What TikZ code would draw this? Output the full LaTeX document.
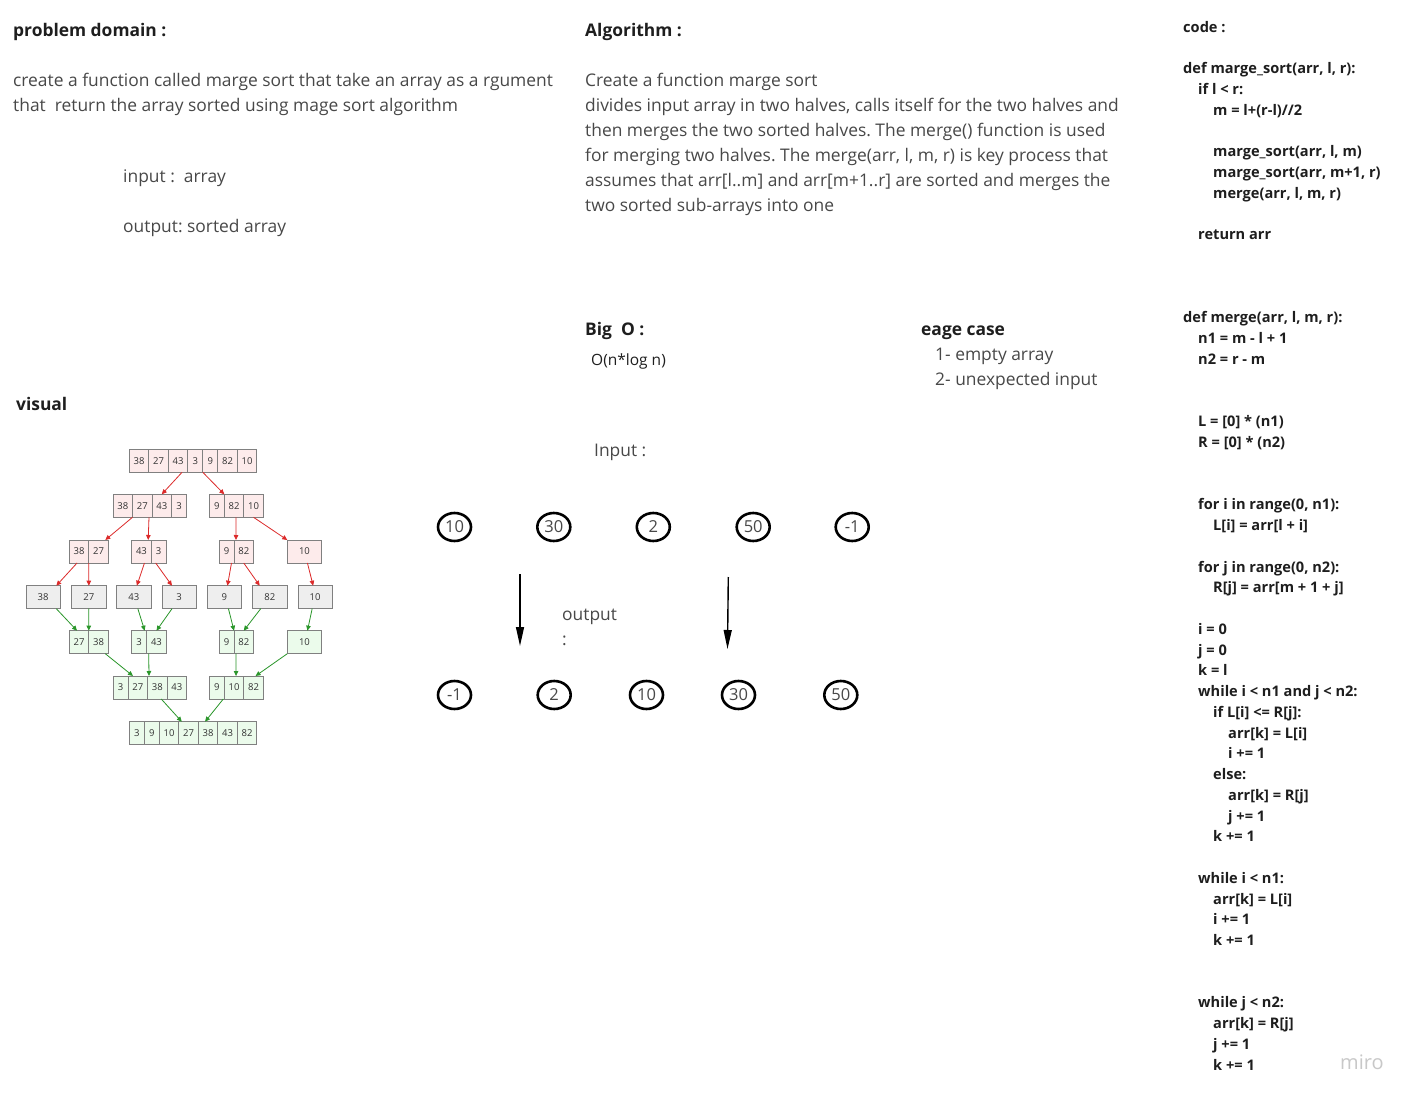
\documentclass[tikz,border=0pt]{standalone}
\usepackage{fontspec}
\setmainfont{Open Sans}
\usepackage{tikz}
\usetikzlibrary{shapes,positioning,arrows.meta}
\definecolor{txtgray}{HTML}{484848}
\definecolor{headgray}{HTML}{1E1E1E}
\definecolor{cellred}{HTML}{FDEBEB}
\definecolor{cellgreen}{HTML}{EBFBEB}
\definecolor{cellgray}{HTML}{EEEEEE}
\definecolor{cellline}{HTML}{808080}
\definecolor{arrred}{HTML}{DC2A2A}
\definecolor{arrgreen}{HTML}{2A962A}
\definecolor{mirogray}{HTML}{C8C8C8}
\frenchspacing

% one record = row of cells, #1 name, #2/#3 top left, #4 fill, #5 value/width
\newcommand{\record}[5]{%
  \node[inner sep=0pt, minimum size=0pt, outer sep=0pt] (#1-0) at (#2,#3) {};
  \foreach \v/\w [count=\i, remember=\i as \j (initially 0)] in {#5}
    \node[cell, fill=#4, minimum width=\w, anchor=north west] (#1-\i) at (#1-\j.north east) {\v};
}
\def\one{15pt}
\def\two{19.5pt}
\def\wide{34.3pt}

\begin{document}
\begin{tikzpicture}[x=1pt, y=-1pt, >=latex,
  head/.style={anchor=base west, inner sep=0pt, text=headgray, font=\fontsize{17.4}{20}\selectfont\bfseries},
  body/.style={anchor=base west, inner sep=0pt, text=txtgray, font=\fontsize{17.4}{20}\selectfont},
  codeline/.style={anchor=base west, inner sep=0pt, text=headgray, font=\fontsize{14.6}{16}\selectfont\bfseries},
  cell/.style={draw=cellline, line width=0.9pt, minimum height=23pt, inner sep=0pt, outer sep=0pt, text=black!80, font=\fontsize{9.5}{10}\selectfont},
  splitarrow/.style={-{Triangle[length=5pt,width=4.5pt]}, arrred, line width=0.8pt},
  mergearrow/.style={-{Triangle[length=5pt,width=4.5pt]}, arrgreen, line width=0.8pt},
  num/.style={ellipse, draw, line width=2.6pt, minimum width=33pt, minimum height=28pt, inner sep=0pt, text=txtgray, font=\fontsize{16.5}{18}\selectfont},
  bigarrow/.style={-{Triangle[length=19pt,width=8pt]}, line width=1.4pt}]

\fill[white] (0,0) rectangle (1417,1102);
\useasboundingbox (0,0) rectangle (1417,1102);

% problem domain
\node[head] (hprob) at (13,36.5) {problem domain :};
\node[body] (prob1) at (13,86.5) {create a function called marge sort that take an array as a rgument};
\node[body] (prob2) at (13,111.5) {that~ return the array sorted using mage sort algorithm};
\node[body] (pin) at (123,182.5) {input :~ array};
\node[body] (pout) at (123,232.5) {output: sorted array};

% algorithm
\node[head] (halgo) at (585,36.5) {Algorithm :};
\foreach \t [count=\i] in {{Create a function marge sort},
  {divides input array in two halves, calls itself for the two halves and},
  {then merges the two sorted halves. The merge() function is used},
  {for merging two halves. The merge(arr, l, m, r) is key process that},
  {assumes that arr[l..m] and arr[m+1..r] are sorted and merges the},
  {two sorted sub-arrays into one}}
  \node[body] (algo\i) at (585,61.5+25*\i) {\t};

% big O und edge cases
\node[head] (hbig) at (585,335.5) {Big~ O :};
\node[anchor=base west, inner sep=0pt, text=headgray, font=\fontsize{15.5}{16}\selectfont] (bigo) at (591,365) {O(n*log n)};
\node[head] (hedge) at (921,335.5) {eage case};
\node[body] (edge1) at (935,360.5) {1- empty array};
\node[body] (edge2) at (935,385.5) {2- unexpected input};

% input / output
\node[body] (hin) at (594,456) {Input :};
\foreach \v/\x [count=\i] in {10/454.5, 30/553.8, 2/653.3, 50/753.2, -1/852.2}
  \node[num] (in\i) at (\x,527) {\v};
\foreach \v/\x [count=\i] in {-1/454.5, 2/554.2, 10/646.5, 30/738.5, 50/840.8}
  \node[num] (out\i) at (\x,695) {\v};
\coordinate (ar1s) at (520,574);
\coordinate (ar1e) at (520,646);
\coordinate (ar2s) at (728.3,577);
\coordinate (ar2e) at (727.5,649);
\draw[bigarrow] (ar1s) -- (ar1e);
\draw[bigarrow] (ar2s) -- (ar2e);
\node[body] (hout) at (562,620) {output};
\node[body] (hcolon) at (562,645) {:};

% visual
\node[head] (hvis) at (16,410.5) {visual};
\record{a}{129.3}{449.3}{cellred}{38/\two,27/\two,43/\two,3/\one,9/\one,82/\two,10/\two}
\record{bl}{113}{494.3}{cellred}{38/\two,27/\two,43/\two,3/\one}
\record{br}{209.3}{494.3}{cellred}{9/\one,82/\two,10/\two}
\record{cl1}{69.3}{540}{cellred}{38/\two,27/\two}
\record{cl2}{131.7}{540}{cellred}{43/\two,3/\one}
\record{cr1}{219}{540}{cellred}{9/\one,82/\two}
\record{cr2}{287.3}{540}{cellred}{10/\wide}
\record{d1}{26}{585.7}{cellgray}{38/\wide}
\record{d2}{71.7}{585.7}{cellgray}{27/\wide}
\record{d3}{116.7}{585.7}{cellgray}{43/\wide}
\record{d4}{162}{585.7}{cellgray}{3/\wide}
\record{d5}{207.3}{585.7}{cellgray}{9/\wide}
\record{d6}{252.7}{585.7}{cellgray}{82/\wide}
\record{d7}{298}{585.7}{cellgray}{10/\wide}
\record{e1}{69.3}{630.7}{cellgreen}{27/\two,38/\two}
\record{e2}{131.7}{630.7}{cellgreen}{3/\one,43/\two}
\record{e3}{219}{630.7}{cellgreen}{9/\one,82/\two}
\record{e4}{287.3}{630.7}{cellgreen}{10/\wide}
\record{f1}{113}{676}{cellgreen}{3/\one,27/\two,38/\two,43/\two}
\record{f2}{209.3}{676}{cellgreen}{9/\one,10/\two,82/\two}
\record{g}{129.3}{721.7}{cellgreen}{3/\one,9/\one,10/\two,27/\two,38/\two,43/\two,82/\two}

% teilen
\draw[splitarrow] ([xshift=4pt]a-3.south) -- (bl-3.north);
\draw[splitarrow] (a-4.south east) -- (br-1.north east);
\draw[splitarrow] (bl-1.south east) -- ([xshift=-3pt]cl1-2.north east);
\draw[splitarrow] ([xshift=-3pt]bl-2.south east) -- ([xshift=-3pt]cl2-1.north east);
\draw[splitarrow] ([xshift=2pt]br-2.south) -- ([xshift=2pt]cr1-2.north west);
\draw[splitarrow] (br-3.south) -- (cr2-1.north west);
\draw[splitarrow] ([xshift=-2pt]cl1-1.south) -- ([xshift=-4pt]d1-1.north east);
\draw[splitarrow] (cl1-1.south east) -- (d2-1.north);
\draw[splitarrow] ([xshift=3pt]cl2-1.south) -- ([xshift=3pt]d3-1.north);
\draw[splitarrow] ([xshift=-3pt]cl2-2.south) -- ([xshift=10pt]d4-1.north west);
\draw[splitarrow] ([xshift=5pt]cr1-1.south) -- ([xshift=3pt]d5-1.north);
\draw[splitarrow] (cr1-2.south) -- ([xshift=7pt]d6-1.north west);
\draw[splitarrow] ([xshift=3pt]cr2-1.south) -- ([xshift=-2pt]d7-1.north);
% mischen
\draw[mergearrow] ([xshift=-4pt]d1-1.south east) -- ([xshift=-2pt]e1-1.north);
\draw[mergearrow] (d2-1.south) -- (e1-1.north east);
\draw[mergearrow] ([xshift=4pt]d3-1.south) -- ([xshift=-2pt]e2-1.north east);
\draw[mergearrow] ([xshift=10pt]d4-1.south west) -- (e2-2.north);
\draw[mergearrow] ([xshift=4pt]d5-1.south) -- (e3-1.north east);
\draw[mergearrow] ([xshift=8pt]d6-1.south west) -- (e3-2.north);
\draw[mergearrow] ([xshift=-3pt]d7-1.south) -- ([xshift=3pt]e4-1.north);
\draw[mergearrow] ([xshift=-3pt]e1-2.south east) -- ([xshift=5pt]f1-2.north west);
\draw[mergearrow] ([xshift=2pt]e2-2.south west) -- ([xshift=1.5pt]f1-3.north west);
\draw[mergearrow] ([xshift=2pt]e3-2.south west) -- ([xshift=2pt]f2-2.north);
\draw[mergearrow] (e4-1.south west) -- ([xshift=2pt]f2-3.north);
\draw[mergearrow] ([xshift=4pt]f1-3.south) -- ([xshift=3pt]g-4.north west);
\draw[mergearrow] ([xshift=-1pt]f2-1.south east) -- ([xshift=-3pt]g-5.north);

% code
\foreach \k/\ind/\t in {0/0/{code :}, 2/0/{def marge\_sort(arr, l, r):}, 3/1/{if l < r:},
  4/2/{m = l+(r-l)//2}, 6/2/{marge\_sort(arr, l, m)}, 7/2/{marge\_sort(arr, m+1, r)},
  8/2/{merge(arr, l, m, r)}, 10/1/{return arr}, 14/0/{def merge(arr, l, m, r):},
  15/1/{n1 = m - l + 1}, 16/1/{n2 = r - m}, 19/1/{L = [0] * (n1)}, 20/1/{R = [0] * (n2)},
  23/1/{for i in range(0, n1):}, 24/2/{L[i] = arr[l + i]}, 26/1/{for j in range(0, n2):},
  27/2/{R[j] = arr[m + 1 + j]}, 29/1/{i = 0}, 30/1/{j = 0}, 31/1/{k = l},
  32/1/{while i < n1 and j < n2:}, 33/2/{if L[i] <= R[j]:}, 34/3/{arr[k] = L[i]},
  35/3/{i += 1}, 36/2/{else:}, 37/3/{arr[k] = R[j]}, 38/3/{j += 1}, 39/2/{k += 1},
  41/1/{while i < n1:}, 42/2/{arr[k] = L[i]}, 43/2/{i += 1}, 44/2/{k += 1},
  47/1/{while j < n2:}, 48/2/{arr[k] = R[j]}, 49/2/{j += 1}, 50/2/{k += 1}}
  \node[codeline] (code\k) at (1183+15*\ind,32.5+20.75*\k) {\t};

\node[anchor=base west, inner sep=0pt, text=mirogray, font=\fontsize{20}{22}\selectfont] (miro) at (1340,1069) {miro};
\end{tikzpicture}
\end{document}
